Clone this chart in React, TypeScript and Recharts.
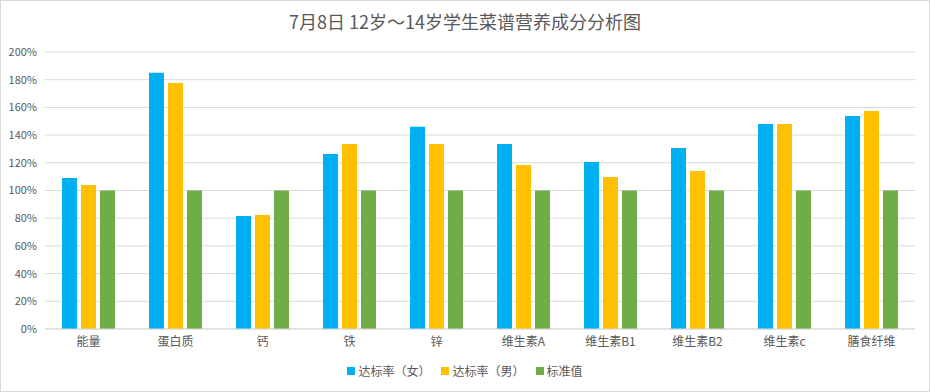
import { BarChart, Bar, XAxis, YAxis, CartesianGrid, Legend } from 'recharts'

const categories = ['能量', '蛋白质', '钙', '铁', '锌', '维生素A', '维生素B1', '维生素B2', '维生素c', '膳食纤维']
const femaleRate = [109, 185, 81.6, 126.4, 146, 133.6, 120.6, 130.7, 148, 153.8]
const maleRate = [104, 177.6, 82.3, 133.6, 133.6, 118.4, 109.7, 114.1, 148, 157.4]
const standard = [100, 100, 100, 100, 100, 100, 100, 100, 100, 100]
const yTicks = [0, 20, 40, 60, 80, 100, 120, 140, 160, 180, 200]

const seriesInfo = [
  { key: 'female', name: '达标率（女）', color: '#00B0F0' },
  { key: 'male', name: '达标率（男）', color: '#FFC000' },
  { key: 'standard', name: '标准值', color: '#70AD47' },
]

const data = categories.map((c, i) => ({
  name: c,
  female: femaleRate[i],
  male: maleRate[i],
  standard: standard[i],
}))

const FONT = '"Noto Sans CJK SC", "Noto Sans", sans-serif'

function LegendContent() {
  return (
    <div style={{ display: 'flex', justifyContent: 'center', alignItems: 'center', gap: 11, paddingTop: 7, paddingLeft: 10, fontSize: 12, color: '#595959', fontFamily: FONT }}>
      {seriesInfo.map(s => (
        <span key={s.key} style={{ display: 'flex', alignItems: 'center' }}>
          <span style={{ width: 8, height: 8, background: s.color, display: 'inline-block', marginRight: 3 }} />
          {s.name}
        </span>
      ))}
    </div>
  )
}

export default function App() {
  return (
    <div style={{
      position: 'absolute', left: 0, top: 0, width: 928, height: 390,
      border: '1px solid #d9d9d9', background: '#fff', fontFamily: FONT,
    }}>
      <div style={{
        position: 'absolute', top: 7, left: 0, width: '100%', textAlign: 'center',
        fontSize: 18, color: '#595959', lineHeight: '26px',
      }}>
        7月8日 12岁～14岁学生菜谱营养成分分析图
      </div>
      <BarChart
        width={928}
        height={390}
        data={data}
        margin={{ top: 51, right: 14, left: 4, bottom: 0 }}
        barCategoryGap={17}
        barGap={4}
      >
        <CartesianGrid vertical={false} stroke="#d9d9d9" />
        <XAxis
          dataKey="name"
          tickLine={false}
          axisLine={{ stroke: '#d9d9d9' }}
          tick={{ fill: '#595959', fontSize: 12 }}
          height={26}
          interval={0}
        />
        <YAxis
          domain={[0, 200]}
          ticks={yTicks}
          tickFormatter={(v: number) => `${v}%`}
          tickLine={false}
          axisLine={false}
          tick={{ fill: '#595959', fontSize: 11 }}
          width={40}
        />
        <Legend verticalAlign="bottom" height={36} content={<LegendContent />} />
        {seriesInfo.map(s => (
          <Bar key={s.key} dataKey={s.key} name={s.name} fill={s.color} isAnimationActive={false} />
        ))}
      </BarChart>
    </div>
  )
}
